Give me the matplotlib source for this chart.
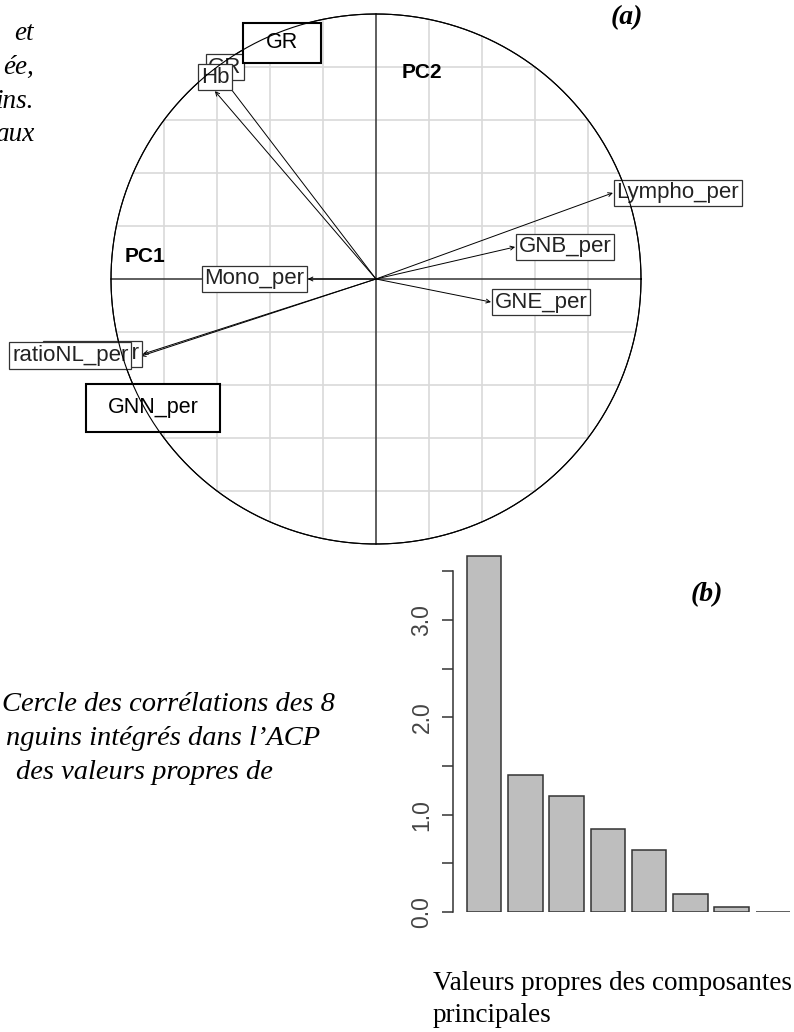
import numpy as np
import matplotlib
matplotlib.use("Agg")
import matplotlib.pyplot as plt
from matplotlib.patches import Rectangle

# correlation circle: variable coordinates on PC1 / PC2
variables = ["Lympho_per", "GNB_per", "GNE_per", "Mono_per",
             "GNN_per", "ratioNL_per", "GR", "Hb"]
pc1 = [0.894, 0.525, 0.434, -0.257, -0.879, -0.887, -0.570, -0.608]
pc2 = [0.325, 0.121, -0.087, 0.000, -0.283, -0.291, 0.747, 0.709]

# eigenvalues of the principal components
eigen = [3.66, 1.41, 1.19, 0.85, 0.64, 0.185, 0.05, 0.005]
ytick_vals = [0.0, 0.5, 1.0, 1.5, 2.0, 2.5, 3.0, 3.5]
ytick_labels = ["0.0", "", "1.0", "", "2.0", "", "3.0", ""]

W, H = 794, 1032
fig = plt.figure(figsize=(W / 100, H / 100), dpi=100)

# ---- panel (a): whole figure axis, 1 unit = circle radius
cx, cy, R = 376, 279, 265
ax = fig.add_axes([0, 0, 1, 1])
ax.set_xlim((0 - cx) / R, (W - cx) / R)
ax.set_ylim((cy - H) / R, cy / R)
ax.axis("off")

def px(x, y):
    return (x - cx) / R, (cy - y) / R

for g in [-0.8, -0.6, -0.4, -0.2, 0.2, 0.4, 0.6, 0.8]:
    h = np.sqrt(1 - g ** 2)
    ax.plot([g, g], [-h, h], color="#d9d9d9", lw=1.2, zorder=1)
    ax.plot([-h, h], [g, g], color="#d9d9d9", lw=1.2, zorder=1)

ax.plot([-1.0, 1.0], [0, 0], color="#333333", lw=1.1, zorder=2)
ax.plot([0, 0], [-1.0, 1.0], color="#333333", lw=1.1, zorder=2)

t = np.linspace(0, 2 * np.pi, 400)
ax.plot(np.cos(t), np.sin(t), color="black", lw=0.8, zorder=3)

# ratioNL_per label sits a little left of its arrow on the original
extra = {"ratioNL_per": (-6.5, 0.5)}

for name, x, y in zip(variables, pc1, pc2):
    ax.annotate("", xy=(x, y), xytext=(0, 0),
                arrowprops=dict(arrowstyle="->", lw=0.7, color="black",
                                shrinkA=0, shrinkB=0, mutation_scale=7),
                zorder=4)
    # label placement as in ade4 (box touching the arrow tip)
    if abs(y) < abs(x):
        ha, va = ("left", "center") if x > 0 else ("right", "center")
        off = (2.5 if x > 0 else -2.5, 0)
    else:
        ha, va = ("center", "bottom") if y > 0 else ("center", "top")
        off = (0, 2.5 if y > 0 else -2.5)
    ex = extra.get(name, (0, 0))
    off = (off[0] + ex[0], off[1] + ex[1])
    ax.annotate(name, xy=(x, y), xytext=off, textcoords="offset points",
                ha=ha, va=va, fontsize=16, family="Liberation Sans",
                color="#222222", zorder=6,
                bbox=dict(boxstyle="square,pad=0.12", fc="white",
                          ec="#333333", lw=0.9))

# overlay boxes added on the page
for name, (x0, y0, x1, y1) in [("GR", (243, 23, 321, 63)),
                               ("GNN_per", (86, 384, 220, 432))]:
    a0, b0 = px(x0, y1)
    a1, b1 = px(x1, y0)
    ax.add_patch(Rectangle((a0, b0), a1 - a0, b1 - b0, fc="white",
                           ec="black", lw=1.5, zorder=7))
    ax.text((a0 + a1) / 2, (b0 + b1) / 2, name, ha="center", va="center",
            fontsize=15.5, family="Liberation Sans", color="black", zorder=8)
# circle arc visible through the overlay boxes
ax.plot(np.cos(t), np.sin(t), color="black", lw=0.8, zorder=7.5)

ax.text(*px(125, 257), "PC1", ha="left", va="center", fontsize=15,
        fontweight="bold", family="Liberation Sans", zorder=6)
ax.text(*px(402, 73), "PC2", ha="left", va="center", fontsize=15,
        fontweight="bold", family="Liberation Sans", zorder=6)

# ---- panel (b): eigenvalue barplot
x_per_px = 34.36
y_per_px = 97.3
left_px = 467 - 0.41 * x_per_px
right_px = 467 + 9.6 * x_per_px + 0.2 * x_per_px
bottom_px, top_px = 912, 912 - 3.8 * y_per_px
axb = fig.add_axes([left_px / W, 1 - bottom_px / H,
                    (right_px - left_px) / W, (bottom_px - top_px) / H])
pos = [0.7 + 1.2 * i for i in range(len(eigen))]
axb.bar(pos, eigen, width=1.0, color="#bebebe", edgecolor="#333333", lw=1.1)
axb.set_xlim(-0.21, 10.0)
axb.set_ylim(0, 3.8)
axb.patch.set_alpha(0)
for s in ["top", "right", "bottom"]:
    axb.spines[s].set_visible(False)
axb.spines["left"].set_bounds(0, 3.5)
axb.spines["left"].set_color("#333333")
axb.spines["left"].set_linewidth(1.1)
axb.set_xticks([])
axb.set_yticks(ytick_vals)
axb.set_yticklabels(ytick_labels, rotation=90, va="center",
                    family="Liberation Sans", fontsize=16.5, color="#444444")
axb.tick_params(axis="y", length=8, width=1.1, color="#333333", pad=6)

# ---- page text around the figure
serif = "Liberation Serif"
def ftext(x, y, s, **kw):
    fig.text(x / W, 1 - y / H, s, family=serif, **kw)

ftext(627, 18, "(a)", ha="center", va="center", fontsize=20,
      style="italic", fontweight="bold")
ftext(707, 595, "(b)", ha="center", va="center", fontsize=20,
      style="italic", fontweight="bold")

for s, yb in [("et", 40), ("ée,", 74), ("ins.", 108), ("aux", 141)]:
    ftext(34, yb, s, ha="right", va="baseline", fontsize=19.5, style="italic")

ftext(335, 711, "Cercle des corrélations des 8", ha="right", va="baseline",
      fontsize=20.5, style="italic")
ftext(320, 745, "nguins intégrés dans l’ACP", ha="right", va="baseline",
      fontsize=20.5, style="italic")
ftext(16, 779, "des valeurs propres de", ha="left", va="baseline",
      fontsize=20.5, style="italic")

ftext(433, 990, "Valeurs propres des composantes", ha="left",
      va="baseline", fontsize=19.5)
ftext(433, 1022, "principales", ha="left", va="baseline", fontsize=19.5)

fig.savefig("out.png", dpi=100)
